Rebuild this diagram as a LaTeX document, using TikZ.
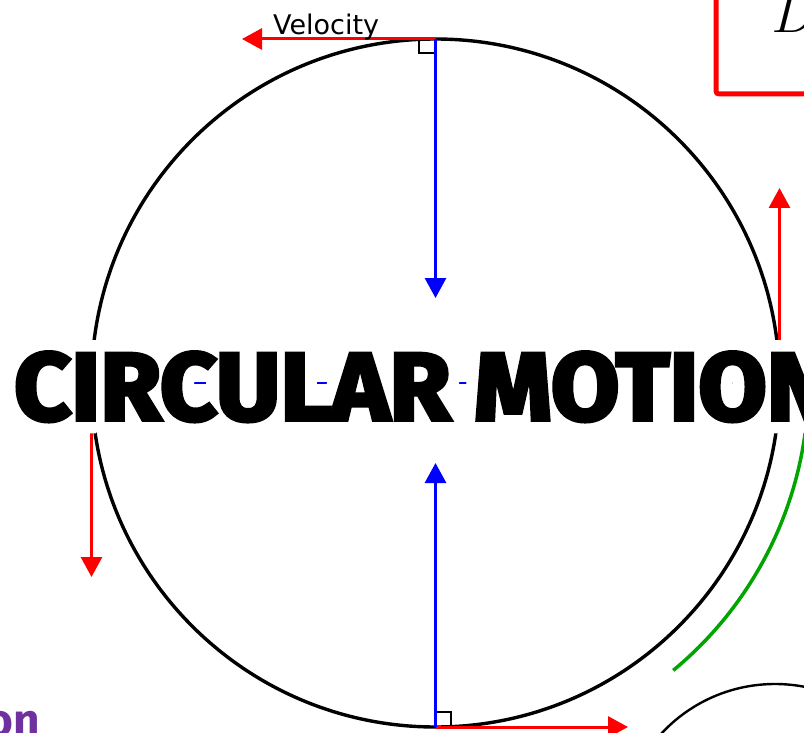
\documentclass[tikz,border=0pt]{standalone}
\usepackage{fontspec}
\usepackage[copies]{contour}
\usetikzlibrary{arrows.meta}
\newfontfamily\velfont{DejaVu Sans}
\newfontfamily\titlefont{Fira Sans}[BoldFeatures={FakeBold=4}]
\newfontfamily\purplefont{Fira Sans}
\definecolor{myred}{RGB}{255,0,0}
\definecolor{myblue}{RGB}{0,0,255}
\definecolor{mygreen}{RGB}{0,165,0}
\definecolor{mypurple}{RGB}{112,48,160}
\contourlength{1.2pt}
\tikzset{
  vecarrow/.style={line width=3pt,-{Triangle[length=20pt,width=21pt]}},
  redvec/.style={vecarrow,draw=myred,fill=myred},
  bluevec/.style={vecarrow,draw=myblue,fill=myblue},
  rightangle/.style={draw=black,line width=1.6pt},
}
\begin{document}
\begin{tikzpicture}[x=1pt,y=-1pt]
\useasboundingbox (0,0) rectangle (804,733);
\clip (0,0) rectangle (804,733);
% key points
\coordinate (O) at (435.5,383);
\coordinate (T) at (435.5,39);
\coordinate (B) at (435.5,727);
\coordinate (L) at (91.5,383);
\coordinate (R) at (779.5,383);
\coordinate (Tv) at (242,39);
\coordinate (Bv) at (628,727);
\coordinate (Lv) at (91.5,577);
\coordinate (Rv) at (779.5,188);
\coordinate (Ta) at (435.5,298);
\coordinate (Ba) at (435.5,463);
% main circle
\draw[line width=3.4pt] (O) circle[radius=344];
% diameter dash-dot line
\draw[myblue,line width=2.2pt,dash pattern=on 24pt off 9pt on 3pt off 9pt] (L) -- (R);
% right angle marks
\draw[rightangle] (419,39) |- (435.5,53);
\draw[rightangle] (435.5,712) -| (451,727);
% velocity arrows
\draw[redvec] (T) -- (Tv);
\draw[redvec] (B) -- (Bv);
\draw[redvec] (L) -- (Lv);
\draw[redvec] (R) -- (Rv);
% centripetal arrows
\draw[bluevec] (T) -- (Ta);
\draw[bluevec] (B) -- (Ba);
% label
\node[font=\velfont\fontsize{27}{30}\selectfont,anchor=base west,inner sep=0] (vel) at (273,35) {Velocity};
% green arc
\draw[mygreen,line width=3.5pt] (O) ++(50.4:373) arc[start angle=50.4,end angle=-5,radius=373];
% lower right circle
\draw[line width=2.4pt] (775,839) circle[radius=155];
% red box top right
\draw[myred,line width=5pt,rounded corners=3pt] (716,-20) rectangle (830,94);
\node[anchor=base west,inner sep=0] (D) at (772,33) {\scalebox{5.2}{$D$}};
% purple partial text
\node[font=\purplefont\bfseries\fontsize{46}{50}\selectfont,text=mypurple,anchor=base east,inner sep=0] (pt) at (40,736) {on};
% title
\node[anchor=base west,inner sep=0] (title) at (14,420)
  {\resizebox{818pt}{68pt}{\titlefont\bfseries\contour{white}{CIRCULAR MOTION}}};
% centre dot
\fill (O) circle[radius=2.8];
\end{tikzpicture}
\end{document}
